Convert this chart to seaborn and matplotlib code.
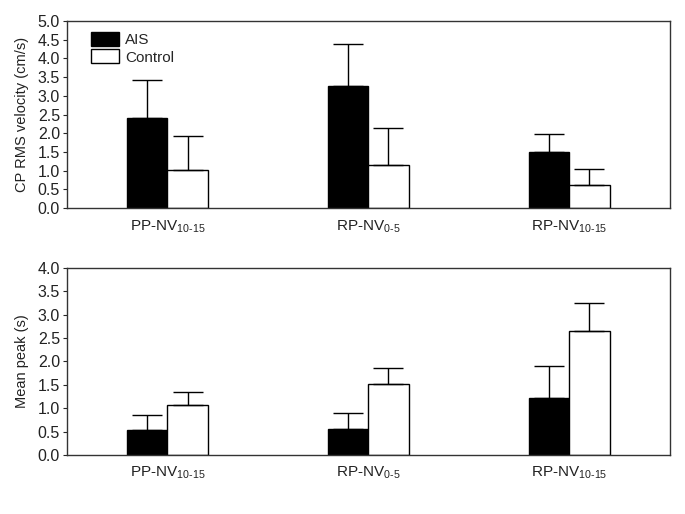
import matplotlib
matplotlib.use("Agg")
import matplotlib.pyplot as plt
import seaborn as sns
import pandas as pd
import numpy as np

sns.set_theme(style="ticks")
plt.rcParams['font.family'] = ['Liberation Sans', 'DejaVu Sans']
plt.rcParams['mathtext.fontset'] = 'custom'
plt.rcParams['mathtext.rm'] = 'Liberation Sans'

categories = ['PP-NV$_{\\text{10-15}}$', 'RP-NV$_{\\text{0-5}}$', 'RP-NV$_{\\text{10-15}}$']
groups = ['AIS', 'Control']

rms_ais = [2.41, 3.27, 1.50]
rms_ais_err = [1.01, 1.11, 0.48]
rms_ctrl = [1.02, 1.15, 0.62]
rms_ctrl_err = [0.90, 0.98, 0.43]

peak_ais = [0.53, 0.56, 1.21]
peak_ais_err = [0.32, 0.34, 0.69]
peak_ctrl = [1.07, 1.52, 2.64]
peak_ctrl_err = [0.27, 0.33, 0.61]

fig = plt.figure(figsize=(6.85, 5.14), dpi=100)
ax1 = fig.add_axes([0.0978, 0.595, 0.880, 0.364])
ax2 = fig.add_axes([0.0978, 0.115, 0.880, 0.364])

palette = {'AIS': 'black', 'Control': 'white'}

def draw(ax, ais, ais_err, ctrl, ctrl_err, ymax, ylabel, legend):
    df = pd.DataFrame({
        'cat': categories * 2,
        'group': ['AIS'] * 3 + ['Control'] * 3,
        'val': list(ais) + list(ctrl),
        'err': list(ais_err) + list(ctrl_err),
    })
    sns.barplot(data=df, x='cat', y='val', hue='group', hue_order=groups,
                palette=palette, width=0.4, edgecolor='black', linewidth=1.0,
                errorbar=None, ax=ax, legend=legend, saturation=1)
    bars = [p for p in ax.patches if p.get_height() > 0]
    bars_sorted = sorted(bars, key=lambda p: p.get_x())
    vals = {}
    for g, vs, es in [('AIS', ais, ais_err), ('Control', ctrl, ctrl_err)]:
        for i in range(3):
            vals[(i, g)] = (vs[i], es[i])
    for p in bars_sorted:
        xc = p.get_x() + p.get_width() / 2
        i = int(round(xc))
        g = 'AIS' if xc < i else 'Control'
        v, e = vals[(i, g)]
        ax.errorbar(xc, v, yerr=[[0], [e]], fmt='none', ecolor='black',
                    elinewidth=1.0, capsize=11, capthick=1.0, zorder=3)
    ax.set_xlim(-0.5, 2.5)
    ax.set_ylim(0, ymax)
    ticks = np.arange(0, ymax + 0.01, 0.5)
    ax.set_yticks(ticks)
    ax.set_yticklabels([f'{t:.1f}' for t in ticks])
    ax.set_xlabel('')
    ax.set_ylabel(ylabel, fontsize=10.5, color='#222222', labelpad=6)
    ax.tick_params(axis='y', length=3, width=0.8, labelsize=11.5, pad=2, labelcolor='#222222')
    ax.tick_params(axis='x', length=0, labelsize=11, pad=7, labelcolor='#222222')
    for s in ax.spines.values():
        s.set_linewidth(1.0)
        s.set_color('#333333')

draw(ax1, rms_ais, rms_ais_err, rms_ctrl, rms_ctrl_err, 5.0, 'CP RMS velocity (cm/s)', True)
draw(ax2, peak_ais, peak_ais_err, peak_ctrl, peak_ctrl_err, 4.0, 'Mean peak (s)', False)

leg = ax1.legend(loc='upper left', bbox_to_anchor=(0.025, 0.99), frameon=False,
                 fontsize=11, handlelength=1.8, handleheight=1.0,
                 handletextpad=0.4, labelspacing=0.15, borderaxespad=0.2)
for h in leg.legend_handles:
    h.set_edgecolor('black')
    h.set_linewidth(1.0)

fig.savefig('out.png', dpi=100)
